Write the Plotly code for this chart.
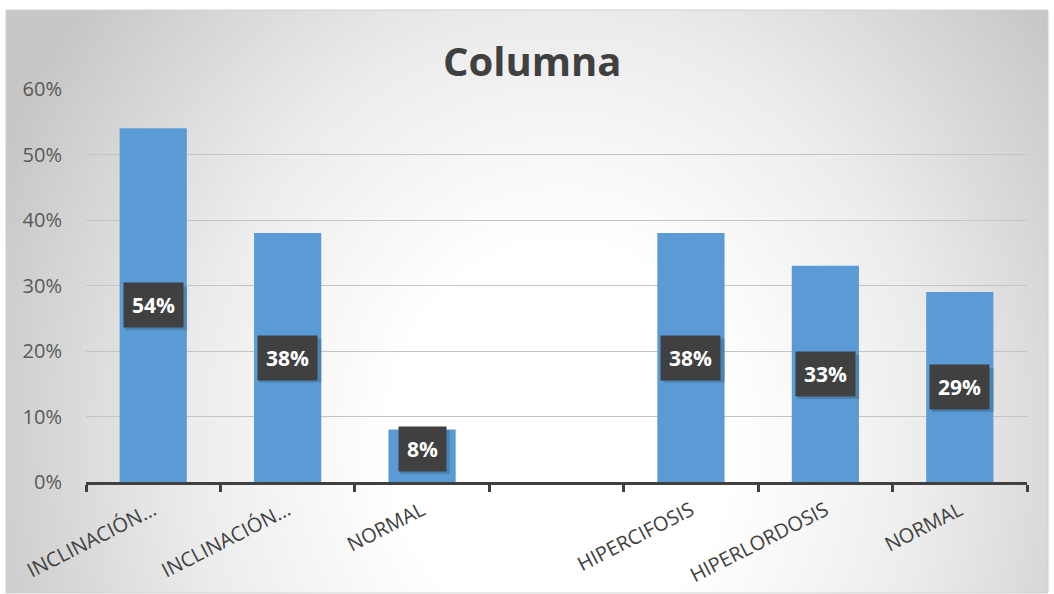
import base64
import plotly.graph_objects as go

categories = ["INCLINACIÓN…", "INCLINACIÓN…", "NORMAL", "", "HIPERCIFOSIS", "HIPERLORDOSIS", "NORMAL"]
values = [0.54, 0.38, 0.08, None, 0.38, 0.33, 0.29]
label_texts = ["54%", "38%", "8%", "", "38%", "33%", "29%"]
y_ticks = [0, 0.1, 0.2, 0.3, 0.4, 0.5, 0.6]
y_tick_labels = ["0%", "10%", "20%", "30%", "40%", "50%", "60%"]
title_text = "Columna"

W, H = 1054, 594
ml, mr, mt, mb = 86, 27, 89, 112
pw, ph = W - ml - mr, H - mt - mb

ids = [f"c{i}" for i in range(len(categories))]

fig = go.Figure()
fig.add_trace(go.Bar(
    x=ids, y=values,
    marker=dict(color="#5b9bd5", line=dict(width=0)),
    hoverinfo="skip",
))

# background gradient
ox0, oy0, ox1, oy1 = 6, 10, 1048, 593
gw, gh = ox1 - ox0, oy1 - oy0
cx, cy = 555, 430
svg = f'''<svg xmlns="http://www.w3.org/2000/svg" width="{gw}" height="{gh}" viewBox="0 0 {gw} {gh}" preserveAspectRatio="none">
<defs><radialGradient id="g" gradientUnits="userSpaceOnUse" cx="{cx}" cy="{cy}" r="700" gradientTransform="translate({cx} {cy}) scale(0.88 1) translate(-{cx} -{cy})">
<stop offset="0" stop-color="#ffffff"/><stop offset="0.28" stop-color="#ffffff"/><stop offset="0.6" stop-color="#ececec"/><stop offset="1" stop-color="#c6c6c6"/></radialGradient></defs>
<rect x="0" y="0" width="{gw}" height="{gh}" fill="url(#g)"/></svg>'''
src = "data:image/svg+xml;base64," + base64.b64encode(svg.encode()).decode()
fig.add_layout_image(dict(
    source=src, xref="paper", yref="paper",
    x=(ox0 - ml) / pw, y=(H - mb - oy0) / ph,
    sizex=gw / pw, sizey=gh / ph,
    xanchor="left", yanchor="top", sizing="stretch", layer="below",
))
fig.add_shape(type="rect", xref="paper", yref="paper",
              x0=(ox0 - ml) / pw, x1=(ox1 - ml) / pw,
              y0=(H - mb - oy1) / ph, y1=(H - mb - oy0) / ph,
              line=dict(color="#d0d0d0", width=1), layer="below")

annotations = []
for cid, v, t in zip(ids, values, label_texts):
    if v is None:
        continue
    yv = max(v / 2, 0.05)
    bw = 12.5 * (len(t) - 1) + 19 + 18
    bh = 44
    # soft shadow behind the label box
    fig.add_shape(type="rect", xref="x", yref="y", xsizemode="pixel", ysizemode="pixel",
                  xanchor=cid, yanchor=yv,
                  x0=-bw / 2 + 3, x1=bw / 2 + 3, y0=-bh / 2 - 3, y1=bh / 2 - 3,
                  fillcolor="rgba(0,0,0,0.16)", line=dict(width=0), layer="above")
    annotations.append(dict(
        x=cid, y=yv, xref="x", yref="y", text=f"<b>{t}</b>", showarrow=False,
        font=dict(family="Open Sans", size=21, color="#ffffff"),
        bgcolor="#404040", borderpad=8,
    ))

fig.update_layout(
    width=W, height=H,
    margin=dict(l=ml, r=mr, t=mt, b=mb, autoexpand=False),
    paper_bgcolor="#ffffff", plot_bgcolor="rgba(0,0,0,0)",
    bargap=0.5, showlegend=False,
    title=dict(text=f"<b>{title_text}</b>", x=0.505, xanchor="center",
               y=1 - 62 / H, yanchor="middle", yref="container",
               font=dict(family="Open Sans", size=40, color="#404040")),
    annotations=annotations,
    font=dict(family="Open Sans"),
)
fig.update_xaxes(
    type="category", tickmode="array", tickvals=ids, ticktext=categories,
    categoryorder="array", categoryarray=ids,
    tickson="boundaries", ticks="outside", ticklen=7, tickwidth=3, tickcolor="#404040",
    showline=True, linecolor="#404040", linewidth=3,
    tickangle=-27, tickfont=dict(family="Open Sans", size=20, color="#404040"),
    ticklabelstandoff=6, automargin=False,
    showgrid=False, range=[-0.5, 6.5],
)
fig.update_yaxes(
    range=[0, 0.6], tickmode="array", tickvals=y_ticks, ticktext=y_tick_labels,
    showgrid=True, gridcolor="#c4c4c4", gridwidth=1, zeroline=False,
    showline=False, ticks="", ticklabelstandoff=23, automargin=False,
    tickfont=dict(family="Open Sans", size=20, color="#595959"),
)

fig.write_html("out.html")
